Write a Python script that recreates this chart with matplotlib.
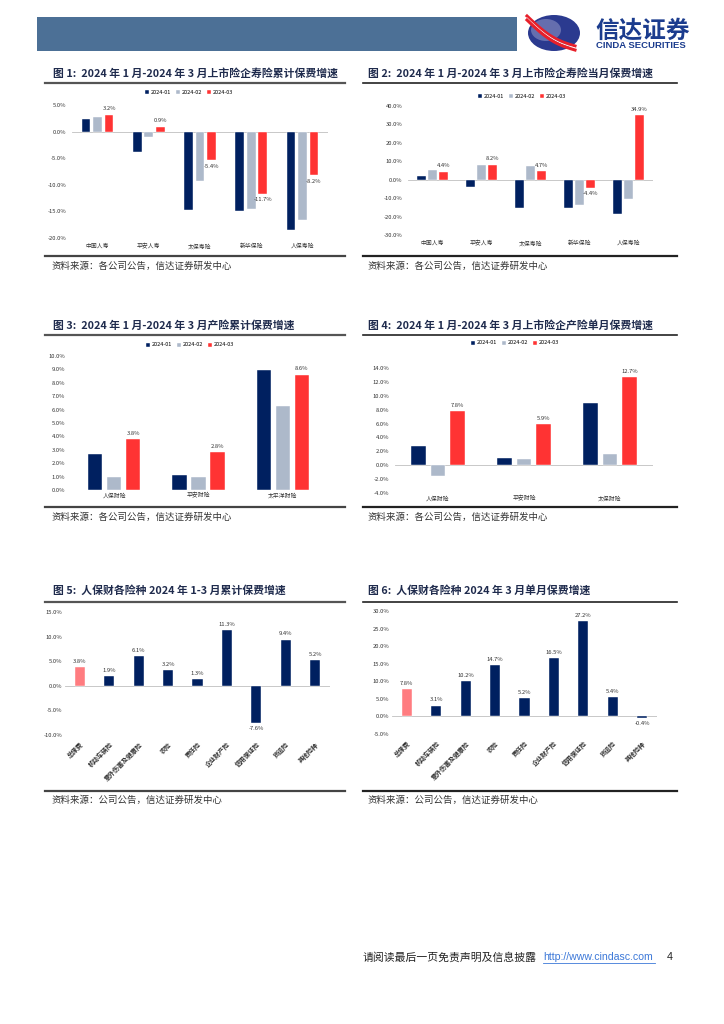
import matplotlib
matplotlib.use("Agg")
import matplotlib.pyplot as plt
import numpy as np
from matplotlib.lines import Line2D
from matplotlib.patches import Rectangle, Ellipse

plt.rcParams['font.family'] = ['Noto Sans CJK SC', 'DejaVu Sans']

W, H = 724, 1024

# ---- data ----
life_cos = ["中国人寿", "平安人寿", "太保寿险", "新华保险", "人保寿险"]
months = ["2024-01", "2024-02", "2024-03"]
life_cum_01 = [2.3, -3.9, -14.7, -15.0, -18.5]
life_cum_02 = [2.8, -1.1, -9.3, -14.6, -16.7]
life_cum_03 = [3.2, 0.9, -5.4, -11.7, -8.2]

life_mon_01 = [2.2, -4.0, -15.1, -15.5, -18.7]
life_mon_02 = [5.1, 7.8, 7.3, -13.5, -10.7]
life_mon_03 = [4.4, 8.2, 4.7, -4.4, 34.9]

pc_cos_cum = ["人保财险", "平安财险", "太平洋财险"]
pc_cum_01 = [2.7, 1.1, 8.95]
pc_cum_02 = [1.0, 1.0, 6.3]
pc_cum_03 = [3.8, 2.8, 8.6]

pc_cos_mon = ["人保财险", "平安财险", "太保财险"]
pc_mon_01 = [2.75, 1.1, 8.9]
pc_mon_02 = [-1.55, 0.9, 1.6]
pc_mon_03 = [7.8, 5.9, 12.7]

lines_cat = ["总保费", "机动车辆险", "意外伤害及健康险", "农险", "责任险",
             "企业财产险", "信用保证险", "货运险", "其他险种"]
picc_cum = [3.8, 1.9, 6.1, 3.2, 1.3, 11.3, -7.6, 9.4, 5.2]
picc_mar = [7.8, 3.1, 10.2, 14.7, 5.2, 16.5, 27.2, 5.4, -0.4]

NAVY = "#002060"
GREY = "#ADB9CA"
RED = "#FF3333"
PINK = "#FF7C80"
TITLE_C = "#1F2B4D"

fig = plt.figure(figsize=(W / 100, H / 100), dpi=100)


def fx(x):
    return x / W


def fy(y):
    return 1 - y / H


def px_axes(l, t, r, b):
    return fig.add_axes([l / W, 1 - b / H, (r - l) / W, (b - t) / H])


def hline(x1, x2, y, color="#555555", lw=1.5):
    fig.add_artist(Line2D([fx(x1), fx(x2)], [fy(y), fy(y)],
                          transform=fig.transFigure, color=color, lw=lw))


def style_axes(ax, ylim, yticks, pad_y=2):
    ax.set_ylim(*ylim)
    ax.set_yticks(yticks)
    ax.set_yticklabels([f"{t:.1f}%" for t in yticks])
    for s in ax.spines.values():
        s.set_visible(False)
    ax.tick_params(axis="both", length=0, labelsize=4.2, colors="#333333")
    ax.tick_params(axis="y", pad=pad_y)
    ax.axhline(0, color="#BFBFBF", lw=0.6, zorder=1)


def grouped(ax, cats, series, label_idx=2, width=0.17, step=0.225):
    x = np.arange(len(cats))
    colors = [NAVY, GREY, RED]
    for i, vals in enumerate(series):
        ax.bar(x + (i - 1) * step, vals, width, color=colors[i], label=months[i],
               edgecolor="white", linewidth=0.3, zorder=2)
    span = ax.get_ylim()[1] - ax.get_ylim()[0]
    off = span * 0.025
    for xi, v in zip(x, series[label_idx]):
        if v >= 0:
            ax.text(xi + step, v + off, f"{v:.1f}%", ha="center", va="bottom",
                    fontsize=4.2, color="#333333")
        else:
            ax.text(xi + step, v - off, f"{v:.1f}%", ha="center", va="top",
                    fontsize=4.2, color="#333333")
    ax.set_xlim(-0.5, len(cats) - 0.5)
    ax.set_xticks(x)
    ax.set_xticklabels(cats, fontsize=4.2)


def legend(ax, cx, cy):
    ax.legend(loc="center", bbox_to_anchor=(fx(cx), fy(cy)),
              bbox_transform=fig.transFigure, ncol=3, frameon=False,
              fontsize=4.0, handlelength=0.7, handleheight=0.7,
              handletextpad=0.3, columnspacing=0.9, borderpad=0)


def single(ax, cats, vals, width=0.34):
    x = np.arange(len(cats))
    colors = [PINK] + [NAVY] * (len(cats) - 1)
    ax.bar(x, vals, width, color=colors, edgecolor="white", linewidth=0.3, zorder=2)
    span = ax.get_ylim()[1] - ax.get_ylim()[0]
    for xi, v in zip(x, vals):
        if v >= 0:
            ax.text(xi, v + span * 0.025, f"{v:.1f}%", ha="center", va="bottom",
                    fontsize=4.2, color="#333333")
        else:
            ax.text(xi, v - span * 0.025, f"{v:.1f}%", ha="center", va="top",
                    fontsize=4.2, color="#333333")
    ax.set_xlim(-0.5, len(cats) - 0.5)
    ax.set_xticks(x)
    ax.set_xticklabels(cats, rotation=45, ha="right", rotation_mode="anchor",
                       fontsize=4.6, fontweight="bold")
    ax.tick_params(axis="x", pad=4)


# ---- header ----
fig.add_artist(Rectangle((fx(37), fy(51)), (517 - 37) / W, 34 / H,
                         transform=fig.transFigure, color="#4C7096", lw=0))
fig.add_artist(Ellipse((fx(554), fy(33)), 52 / W, 36 / H,
                       transform=fig.transFigure, color="#2B3A8F", lw=0))
fig.add_artist(Ellipse((fx(546), fy(30)), 30 / W, 22 / H,
                       transform=fig.transFigure, color="#8C92C4", lw=0, alpha=0.6))
tt = np.linspace(0, 1, 40)
for k, dy in enumerate([-4, 0, 4]):
    xs = 527 + 48 * tt
    ys = 18 + 30 * tt + 5 * np.sin(np.pi * tt) + dy * 0.5
    fig.add_artist(Line2D([fx(v) for v in xs], [fy(v) for v in ys],
                          transform=fig.transFigure,
                          color="#E8202A" if k != 1 else "white",
                          lw=2.2 if k != 1 else 0.8))
fig.text(fx(595), fy(31), "信达证券", fontsize=17, fontweight="bold",
         color="#1B3C8E", va="center", ha="left")
fig.text(fx(596), fy(45.5), "CINDA SECURITIES", fontsize=6.8, fontweight="bold",
         color="#1B3C8E", va="center", ha="left", family="Liberation Sans")

# ---- titles, rules and sources ----
titles = [
    (53, 73, "图 1:  2024 年 1 月-2024 年 3 月上市险企寿险累计保费增速"),
    (368, 73, "图 2:  2024 年 1 月-2024 年 3 月上市险企寿险当月保费增速"),
    (53, 325, "图 3:  2024 年 1 月-2024 年 3 月产险累计保费增速"),
    (368, 325, "图 4:  2024 年 1 月-2024 年 3 月上市险企产险单月保费增速"),
    (53, 590, "图 5:  人保财各险种 2024 年 1-3 月累计保费增速"),
    (368, 590, "图 6:  人保财各险种 2024 年 3 月单月保费增速"),
]
for x, y, t in titles:
    fig.text(fx(x), fy(y), t, fontsize=7.8, fontweight="bold", color=TITLE_C,
             va="center", ha="left")

for y in (83, 335, 602):
    hline(45, 345, y, color="#555555", lw=1.6)
    hline(363, 677, y, color="#222222", lw=1.2)
for y in (256, 507, 791):
    hline(45, 345, y, color="#444444", lw=1.6)
    hline(363, 677, y, color="#222222", lw=1.6)

for y, txt in ((266, "资料来源：各公司公告，信达证券研发中心"),
               (517, "资料来源：各公司公告，信达证券研发中心"),
               (800, "资料来源：公司公告，信达证券研发中心")):
    fig.text(fx(52), fy(y), txt, fontsize=6.8, color="#333333", va="center",
             ha="left")
    fig.text(fx(368), fy(y), txt, fontsize=6.8, color="#333333", va="center",
             ha="left")

# ---- chart 1 ----
ax1 = px_axes(72, 105, 328, 238)
style_axes(ax1, (-20, 5), [5, 0, -5, -10, -15, -20], pad_y=4)
grouped(ax1, life_cos, [life_cum_01, life_cum_02, life_cum_03])
ax1.tick_params(axis="x", pad=4)
legend(ax1, 189, 92)

# ---- chart 2 ----
ax2 = px_axes(408, 106, 653, 235)
style_axes(ax2, (-30, 40), [40, 30, 20, 10, 0, -10, -20, -30], pad_y=4)
grouped(ax2, life_cos, [life_mon_01, life_mon_02, life_mon_03])
ax2.tick_params(axis="x", pad=4)
legend(ax2, 522, 96)

# ---- chart 3 ----
ax3 = px_axes(72, 356, 325, 490)
style_axes(ax3, (0, 10), list(range(10, -1, -1)), pad_y=5)
grouped(ax3, pc_cos_cum, [pc_cum_01, pc_cum_02, pc_cum_03])
ax3.tick_params(axis="x", pad=2)
legend(ax3, 190, 345)

# ---- chart 4 ----
ax4 = px_axes(395, 368, 653, 493)
style_axes(ax4, (-4, 14), [14, 12, 10, 8, 6, 4, 2, 0, -2, -4], pad_y=4)
grouped(ax4, pc_cos_mon, [pc_mon_01, pc_mon_02, pc_mon_03])
ax4.tick_params(axis="x", pad=2)
legend(ax4, 515, 343)

# ---- chart 5 ----
ax5 = px_axes(65, 612, 330, 735)
style_axes(ax5, (-10, 15), [15, 10, 5, 0, -5, -10], pad_y=2)
single(ax5, lines_cat, picc_cum)

# ---- chart 6 ----
ax6 = px_axes(392, 611, 657, 734)
style_axes(ax6, (-5, 30), [30, 25, 20, 15, 10, 5, 0, -5], pad_y=2)
single(ax6, lines_cat, picc_mar)

# ---- footer ----
fig.text(fx(363), fy(957), "请阅读最后一页免责声明及信息披露", fontsize=7.8,
         color="#222222", va="center", ha="left")
fig.text(fx(543), fy(957), "http://www.cindasc.com", fontsize=7.6,
         color="#3C78D8", va="center", ha="left", family="Liberation Sans")
hline(543, 655, 963, color="#3C78D8", lw=0.6)
fig.text(fx(667), fy(957), "4", fontsize=7.8, color="#222222", va="center",
         ha="left", family="Liberation Sans")

fig.savefig("out.png", dpi=100)
